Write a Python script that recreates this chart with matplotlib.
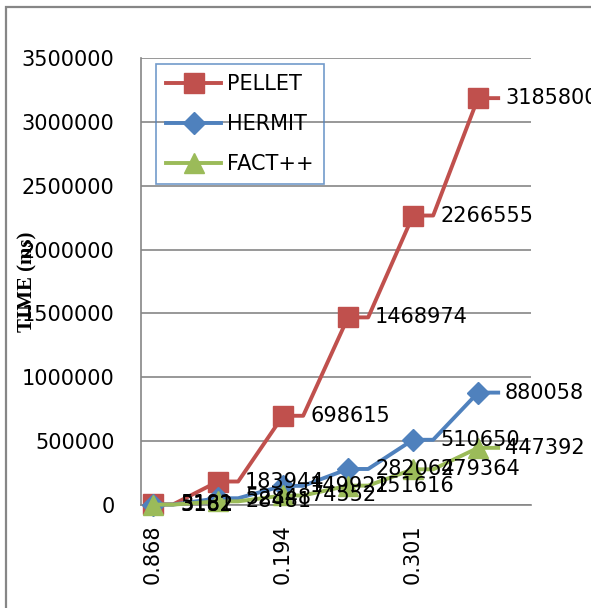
import matplotlib
matplotlib.use('Agg')
import matplotlib.pyplot as plt
import matplotlib.patches as patches

# values
x_labels = ['0.868', '', '0.194', '', '0.301', '']
pellet = [5181, 183944, 698615, 1468974, 2266555, 3185800]
hermit = [3182, 52848, 149922, 282064, 510650, 880058]
factpp = [3162, 28481, 74552, 151616, 279364, 447392]

series = [
    ('PELLET', pellet, '#C0504D', 's', 14),
    ('HERMIT', hermit, '#4F81BD', 'D', 11),
    ('FACT++', factpp, '#9BBB59', '^', 15),
]

plt.rcParams['font.family'] = 'DejaVu Sans'
plt.rcParams['font.size'] = 15

fig = plt.figure(figsize=(5.91, 6.08), dpi=100)
ax = fig.add_axes([141 / 591, 103 / 608, 390 / 591, 447 / 608])

# outer chart border (only left and top are inside the crop)
fig.patches.append(patches.Rectangle((6 / 591, -0.5), 2.0, 1.5 - 7 / 608,
                                     transform=fig.transFigure, fill=False,
                                     edgecolor='#868686', linewidth=1.6))

seg = 0.31
for name, vals, col, mk, ms in series:
    xs, ys = [], []
    for i, v in enumerate(vals):
        xs += [i, i + seg]
        ys += [v, v]
    ax.plot(xs, ys, color=col, linewidth=2.8, marker=mk, markersize=ms,
            markevery=list(range(0, len(xs), 2)), label=name,
            solid_joinstyle='round', clip_on=False, zorder=3)

for name, vals, col, mk, ms in series:
    for i, v in enumerate(vals):
        ax.annotate(str(v), (i, v), xytext=(19.5, 0), textcoords='offset points',
                    ha='left', va='center', fontsize=15, color='black', zorder=5)

ax.set_xlim(-0.185, 5.815)
ax.set_ylim(0, 3500000)
ax.set_yticks(range(0, 3500001, 500000))
ax.set_yticklabels([str(v) for v in range(0, 3500001, 500000)])
ax.set_xticks(range(len(x_labels)))
ax.set_xticklabels(x_labels, rotation=90)
ax.tick_params(axis='y', length=0, pad=19)
ax.tick_params(axis='x', length=0, pad=14)
ax.grid(axis='y', color='#868686', linewidth=1.2)
ax.set_axisbelow(True)
for s in ['top', 'right']:
    ax.spines[s].set_visible(False)
ax.spines['left'].set_color('#868686')
ax.spines['bottom'].set_color('#868686')
ax.spines['left'].set_linewidth(1.2)
ax.spines['bottom'].set_linewidth(1.2)
ax.patch.set_alpha(0)

leg = ax.legend(loc='upper left', bbox_to_anchor=(15 / 390, 441 / 447),
                borderaxespad=0, frameon=True, fancybox=False,
                handlelength=2.6, handletextpad=0.3, labelspacing=0.95,
                borderpad=0.5, fontsize=15)
leg.get_frame().set_edgecolor('#4F81BD')
leg.get_frame().set_facecolor('none')
leg.get_frame().set_linewidth(1.2)

fig.text(27 / 591, 1 - 282 / 608, 'TIME (ms)', rotation=90, ha='center', va='center',
         family='Liberation Serif', fontweight='bold', fontsize=15)

fig.savefig('out.png', dpi=100)
